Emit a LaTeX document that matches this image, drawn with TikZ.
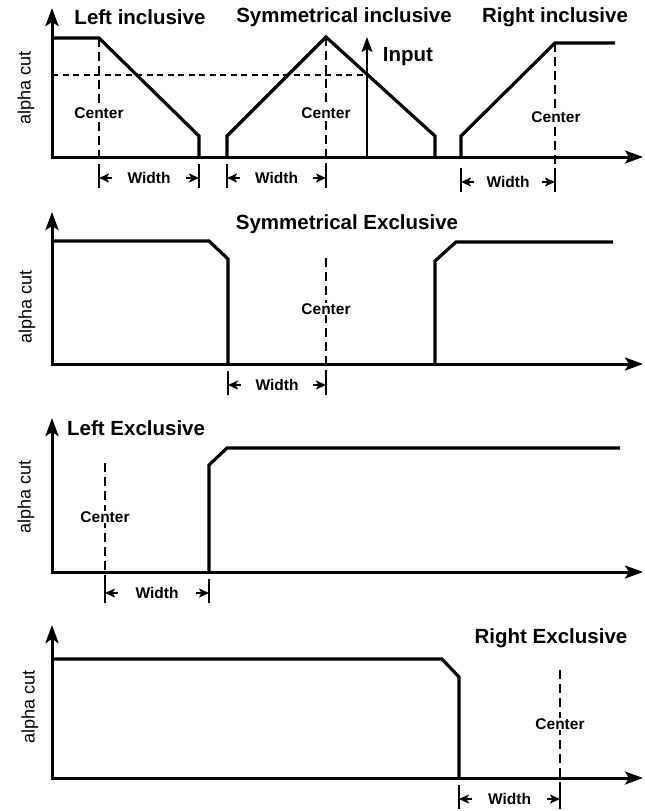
\documentclass[tikz,border=0pt]{standalone}
\usepackage{fontspec}
\setmainfont{Liberation Sans}
\usetikzlibrary{positioning,arrows.meta}

\begin{document}
\begin{tikzpicture}[
x=1pt, y=-1pt,
axis/.style={line width=3pt, {Stealth[length=18pt,width=13pt,inset=4pt]}-{Stealth[length=18pt,width=13pt,inset=4pt]}},
member/.style={line width=3.2pt, line join=miter},
centerline/.style={line width=1.4pt, dash pattern=on 9pt off 5pt},
cutline/.style={line width=2.8pt, dash pattern=on 6pt off 4.5pt},
tickline/.style={line width=1.6pt},
widtharrow/.style={line width=1.5pt, -{Stealth[length=10pt,width=9pt,inset=2.5pt]}},
title/.style={font=\fontsize{20.5}{24}\selectfont\bfseries, inner sep=0pt},
tag/.style={font=\fontsize{15.5}{18}\selectfont\bfseries, fill=white, inner sep=1pt},
ylab/.style={rotate=90, font=\fontsize{18}{21}\selectfont, inner sep=0pt}
]
    \useasboundingbox (0,0) rectangle (645,811);

    %Axes
    \foreach \top/\base/\n in {8/157/a, 212/364/b, 418/572/c, 625/778/d}{
        \draw[axis] (52,\top) -- (52,\base) -- (643,\base);
    }
    \node[ylab] (ya) at (26,88)  {alpha cut};
    \node[ylab] (yb) at (27,307) {alpha cut};
    \node[ylab] (yc) at (26,497) {alpha cut};
    \node[ylab] (yd) at (30,707) {alpha cut};

    %Titles
    \node[title] (tli) at (140,17)  {Left inclusive};
    \node[title] (tsi) at (344,17)  {Symmetrical inclusive};
    \node[title] (tri) at (555,17)  {Right inclusive};
    \node[title] (tse) at (347,224) {Symmetrical Exclusive};
    \node[title, anchor=west] (tle) at (67,428) {Left Exclusive};
    \node[title] (tre) at (551,638) {Right Exclusive};

    %Center lines
    \draw[centerline] (99,38) -- (99,187);
    \draw[centerline] (326,37) -- (326,187);
    \draw[centerline] (555,43) -- (555,190);
    \draw[centerline] (326,258) -- (326,395);
    \draw[centerline] (105,463) -- (105,602);
    \draw[centerline] (560,670) -- (560,810);
    \node[tag] (ca) at (99,113)  {Center};
    \node[tag] (cb) at (326,113) {Center};
    \node[tag] (cc) at (556,117) {Center};
    \node[tag] (cd) at (326,309) {Center};
    \node[tag] (ce) at (105,517) {Center};
    \node[tag] (cf) at (560,724) {Center};

    %Alpha cut and input
    \coordinate (inbase) at (367,157);
    \coordinate (intop)  at (367,37);
    \draw[cutline] (52,75) -- (367,75);
    \draw[line width=1.8pt, -{Stealth[length=15pt,width=11pt,inset=3pt]}] (inbase) -- (intop);
    \node[title] (inp) at (408,57) {Input};

    %Membership functions
    \draw[member] (52,38) -- (99,38) -- (199,136) -- (199,157);
    \draw[member] (227,157) -- (227,136) -- (326,37) -- (435,136) -- (435,157);
    \draw[member] (461,157) -- (461,136) -- (555,43) -- (615,43);
    \draw[member] (52,241) -- (209,241) -- (228,259) -- (228,364);
    \draw[member] (435,364) -- (435,261) -- (456,242) -- (613,242);
    \draw[member] (209,572) -- (209,465) -- (227,448) -- (620,448);
    \draw[member] (52,659) -- (442,659) -- (459,677) -- (459,778);

    %Widths
    \foreach \a/\b/\y/\n in {99/199/178/wa, 227/326/178/wb, 461/555/182/wc, 228/326/385/wd, 105/209/593/we, 459/560/799/wf}{
        \draw[tickline] (\a,\y-14) -- (\a,\y+10);
        \draw[tickline] (\b,\y-14) -- (\b,\y+10);
        \coordinate (\n l) at (\a,\y);
        \coordinate (\n r) at (\b,\y);
        \node[tag] (\n) at ({(\a+\b)/2},\y) {Width};
        \draw[widtharrow] ([xshift=13pt]\n l) -- (\n l);
        \draw[widtharrow] ([xshift=-13pt]\n r) -- (\n r);
    }
\end{tikzpicture}
\end{document}
